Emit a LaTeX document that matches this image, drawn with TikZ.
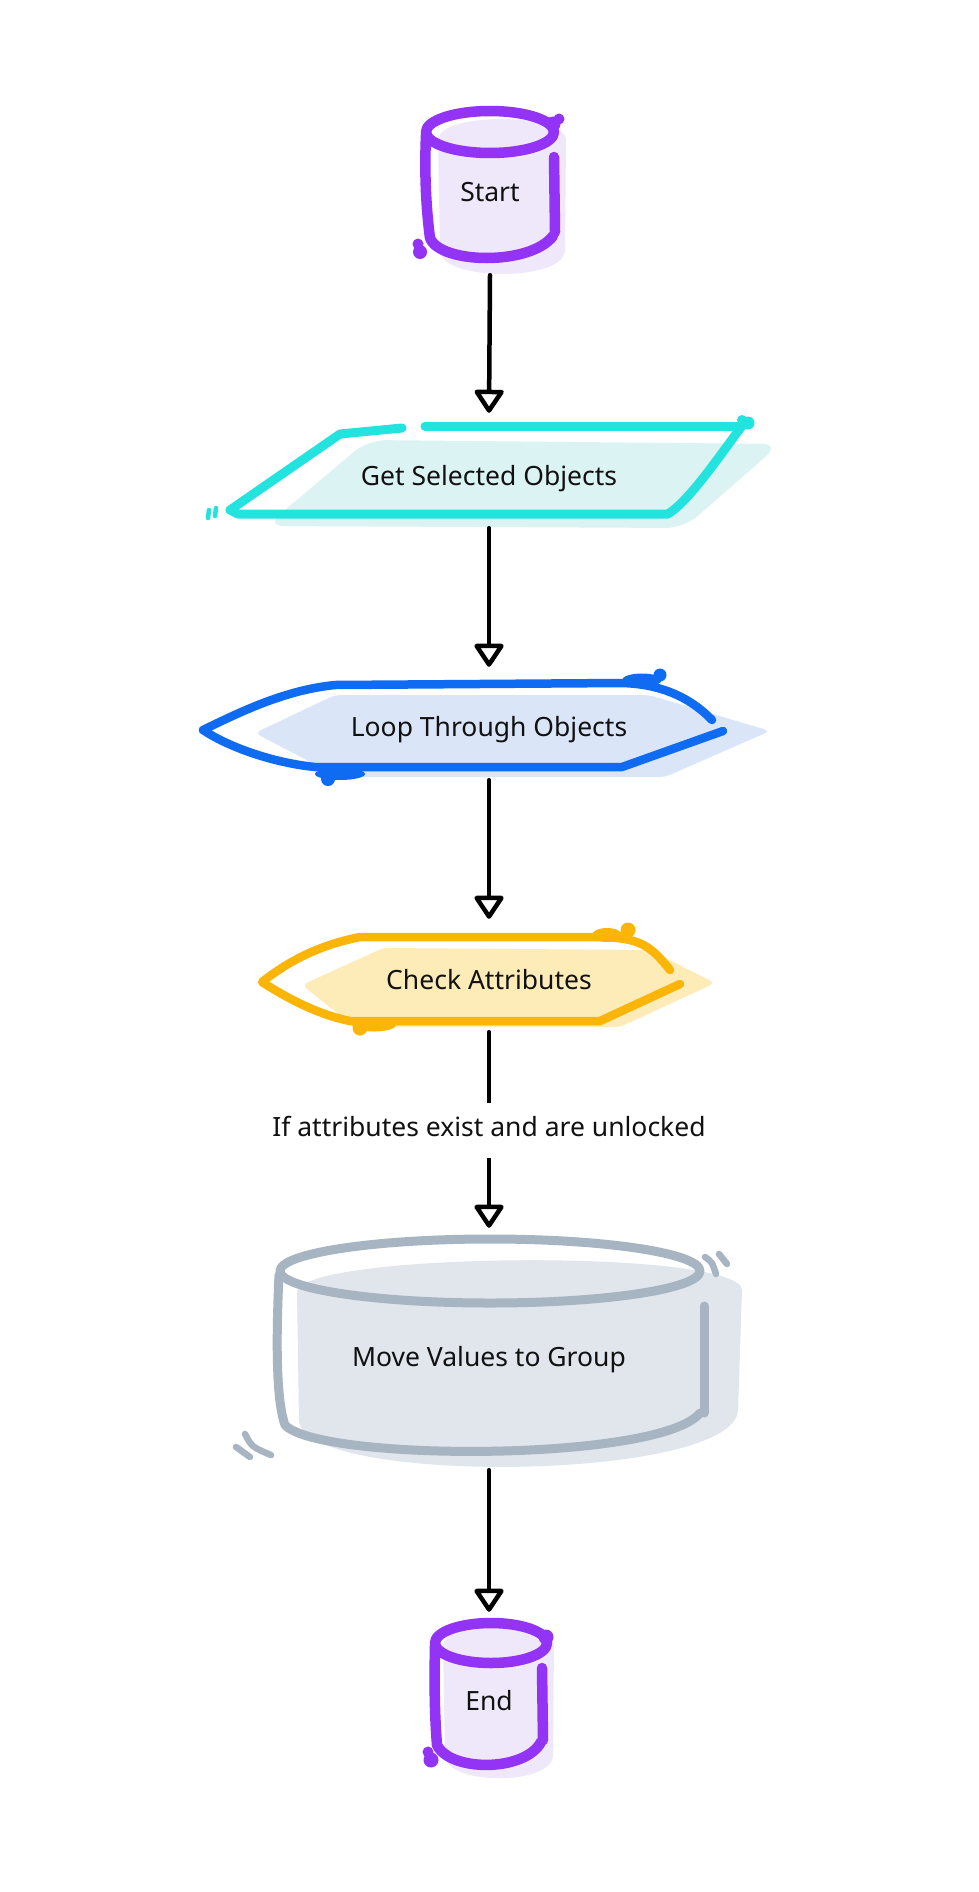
\documentclass[tikz,border=0pt]{standalone}
\usepackage{fontspec}
\setmainfont{Noto Sans}
\usetikzlibrary{arrows.meta}
\definecolor{pstroke}{RGB}{146,51,245}
\definecolor{pfill}{RGB}{239,232,250}
\definecolor{cstroke}{RGB}{34,227,221}
\definecolor{cfill}{RGB}{219,244,243}
\definecolor{bstroke}{RGB}{15,108,242}
\definecolor{bfill}{RGB}{218,229,247}
\definecolor{ystroke}{RGB}{251,181,7}
\definecolor{yfill}{RGB}{253,235,184}
\definecolor{gstroke}{RGB}{167,180,193}
\definecolor{gfill}{RGB}{224,230,236}
\definecolor{txt}{RGB}{17,17,17}
\tikzset{
  box/.style={inner sep=0pt, text height=19pt, text depth=6pt, text=txt, font=\fontsize{26.5}{30}\selectfont},
  conn/.style={draw=black, line width=4.5pt, line cap=round, -{Triangle[open, length=25pt, width=32pt, round]}},
  condlbl/.style={fill=white, inner xsep=4pt, inner ysep=15pt, text height=19pt, text depth=6pt, text=txt, font=\fontsize{26.5}{30}\selectfont},
  sk/.style={line width=#1, line cap=round, line join=round},
}
\begin{document}
\begin{tikzpicture}[x=1pt, y=-1pt]
\useasboundingbox (0,0) rectangle (978,1892);
\fill[white] (0,0) rectangle (978,1892);

% ---------- Start cylinder ----------
\fill[pfill] (438,140) .. controls (438,112) and (566,112) .. (566,140) -- (565,250) .. controls (565,282) and (440,282) .. (440,250) -- cycle;
\draw[pstroke, sk=10.5pt] (490,132) ellipse [x radius=64pt, y radius=21pt];
\draw[pstroke, sk=10.5pt] (426,135) .. controls (424,180) and (427,215) .. (430,238) .. controls (440,264) and (530,266) .. (553,236);
\draw[pstroke, sk=10.5pt] (554,157) -- (555,232);
\fill[pstroke] (553,124) circle (7.5pt) (559,119) circle (5.5pt) (420,252) circle (7pt) (418,244) circle (5.5pt);

% ---------- Get Selected Objects ----------
\fill[cfill, rounded corners=18pt] (368,440) -- (780,444) -- (684,528) -- (266,526) -- cycle;
\draw[cstroke, sk=9pt] (402,428) -- (340,434) -- (230,510) -- (238,514) -- (668,514) .. controls (690,500) and (720,455) .. (742,426);
\draw[cstroke, sk=9pt] (425,426) -- (742,426);
\fill[cstroke] (748,423) circle (6.5pt) (742,420) circle (5pt);
\draw[cstroke, sk=4.5pt] (209,510) -- (208,518) (216,508) -- (215,516);

% ---------- Loop Through Objects ----------
\fill[bfill, rounded corners=6pt] (255,733) -- (335,695) -- (649,695) -- (770,731) -- (665,777) -- (339,777) -- cycle;
\draw[bstroke, sk=8.5pt] (712,720) .. controls (690,697) and (660,684) .. (622,683) -- (335,685) .. controls (285,690) and (240,712) .. (203,730) .. controls (230,748) and (275,763) .. (315,767) -- (622,767) -- (723,731);
\fill[bstroke] (642,680) ellipse [x radius=20pt, y radius=6.5pt] (660,675) circle (6.5pt) (340,774) ellipse [x radius=25pt, y radius=6pt] (328,779) circle (7pt);

% ---------- Check Attributes ----------
\fill[yfill, rounded corners=6pt] (302,985) -- (383,948) -- (650,950) -- (715,983) -- (620,1027) -- (355,1027) -- cycle;
\draw[ystroke, sk=8.5pt] (670,970) .. controls (650,945) and (640,938) .. (600,937) -- (360,937) .. controls (320,945) and (290,960) .. (262,982) .. controls (290,1000) and (320,1015) .. (350,1021) -- (600,1021) -- (680,984);
\fill[ystroke] (607,935) ellipse [x radius=15pt, y radius=7pt] (628,930) circle (7.5pt) (374,1025) ellipse [x radius=22pt, y radius=6.5pt] (360,1028) circle (7.5pt);

% ---------- Move Values to Group ----------
\fill[gfill] (297,1292) .. controls (300,1252) and (740,1248) .. (742,1290) -- (738,1410) .. controls (735,1482) and (300,1486) .. (299,1420) -- cycle;
\draw[gstroke, sk=9pt] (490,1271) ellipse [x radius=210pt, y radius=32pt];
\draw[gstroke, sk=9pt] (279,1275) .. controls (276,1340) and (276,1400) .. (285,1425) .. controls (320,1462) and (660,1462) .. (700,1413);
\draw[gstroke, sk=9pt] (704,1306) -- (704,1413);
\draw[gstroke, sk=6.5pt] (705,1257) .. controls (712,1262) .. (716,1274) (719,1254) -- (727,1264);
\draw[gstroke, sk=6.5pt] (245,1434) .. controls (252,1447) .. (271,1455) (236,1447) -- (250,1457);

% ---------- End cylinder ----------
\fill[pfill] (443,1645) .. controls (443,1620) and (554,1620) .. (554,1645) -- (553,1755) .. controls (553,1786) and (445,1786) .. (445,1755) -- cycle;
\draw[pstroke, sk=10.5pt] (491,1643) ellipse [x radius=56pt, y radius=20pt];
\draw[pstroke, sk=10.5pt] (435,1646) .. controls (434,1690) and (435,1720) .. (437,1745) .. controls (450,1772) and (525,1772) .. (541,1742);
\draw[pstroke, sk=10.5pt] (542,1668) -- (543,1740);
\fill[pstroke] (546,1637) circle (7.5pt) (431,1760) circle (7.5pt) (428,1752) circle (5.5pt);

% ---------- Nodes (text) ----------
\node[box, minimum width=130pt, minimum height=160pt] (start) at (490,195) {Start};
\node[box, minimum width=440pt, minimum height=131pt] (get) at (489,478.5) {Get Selected Objects};
\node[box, minimum width=500pt, minimum height=125pt] (loop) at (489,729.5) {Loop Through Objects};
\node[box, minimum width=400pt, minimum height=127pt] (check) at (489,982.5) {Check Attributes};
\node[box, minimum width=420pt, minimum height=263pt] (move) at (489,1359.5) {Move Values to Group};
\node[box, minimum width=110pt, minimum height=183pt] (end) at (489,1703.5) {End};

% ---------- Connectors ----------
\draw[conn] (start.south) -- (get.north);
\draw[conn] ([yshift=16pt]get.south) -- (loop.north);
\draw[conn] ([yshift=12pt]loop.south) -- (check.north);
\draw[conn] ([yshift=14pt]check.south) -- node[condlbl] (cond) {If attributes exist and are unlocked} (move.north);
\draw[conn] ([yshift=21pt]move.south) -- (end.north);
\end{tikzpicture}
\end{document}
